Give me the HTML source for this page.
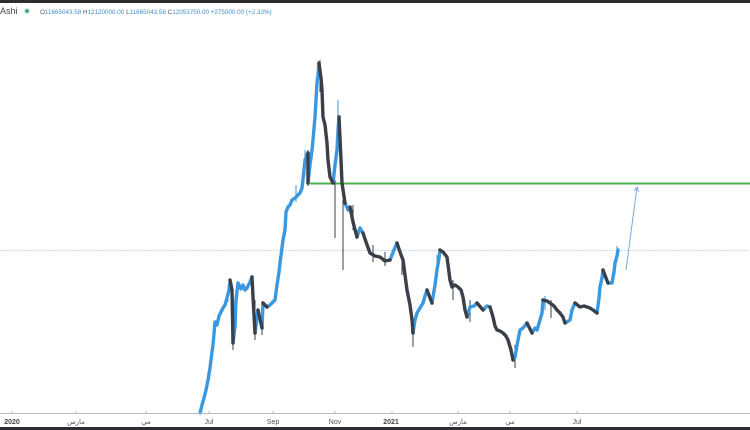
<!DOCTYPE html>
<html><head><meta charset="utf-8"><style>
html,body{margin:0;padding:0;background:#fff;}
svg{display:block;}
</style></head><body>
<svg width="750" height="430" viewBox="0 0 750 430" xmlns="http://www.w3.org/2000/svg">
<rect x="0" y="0" width="750" height="430" fill="#ffffff"/>
<rect x="0" y="0" width="750" height="3" fill="#2b2d33"/>
<rect x="0" y="427" width="750" height="3" fill="#2b2d33"/>

<!-- header -->
<text x="0" y="14" font-family="Liberation Sans, sans-serif" font-size="9" fill="#444">Ashi</text>
<circle cx="27" cy="11" r="3.2" fill="#d8efe6"/>
<circle cx="27" cy="11" r="1.8" fill="#26a07a"/>
<text x="40" y="14" font-family="Liberation Sans, sans-serif" font-size="6.3" fill="#3f8fd0"><tspan fill="#555">O</tspan>11665043.58 <tspan fill="#555">H</tspan>12120000.00 <tspan fill="#555">L</tspan>11665043.58 <tspan fill="#555">C</tspan>12053750.00 +275000.00 (+2.33%)</text>

<!-- dotted price line -->
<line x1="0" y1="250.5" x2="750" y2="250.5" stroke="#c9dbe6" stroke-width="1" stroke-dasharray="2,1"/>

<!-- green level -->
<line x1="310" y1="183.5" x2="750" y2="183.5" stroke="#4caf50" stroke-width="2"/>

<!-- arrow -->
<line x1="626" y1="270" x2="637" y2="187" stroke="#7aaad8" stroke-width="1"/>
<polyline points="634,191 637,187 638.5,192" fill="none" stroke="#7aaad8" stroke-width="1"/>

<!-- wicks -->
<g stroke="#3a3f48" stroke-width="1">
<line x1="343" y1="200" x2="343" y2="270"/>
<line x1="413" y1="320" x2="413" y2="347"/>
<line x1="233" y1="300" x2="233" y2="350"/>
<line x1="255" y1="300" x2="255" y2="340"/>
<line x1="320" y1="60" x2="320" y2="92"/>
<line x1="335" y1="180" x2="335" y2="238"/>
<line x1="308" y1="150" x2="308" y2="186"/>
<line x1="515" y1="345" x2="515" y2="368"/>
<line x1="262" y1="318" x2="262" y2="335"/>
<line x1="353" y1="205" x2="353" y2="230"/>
<line x1="402" y1="255" x2="402" y2="275"/>
<line x1="453" y1="280" x2="453" y2="300"/>
<line x1="373" y1="245" x2="373" y2="262"/>
<line x1="385" y1="252" x2="385" y2="266"/>
<line x1="470" y1="300" x2="470" y2="322"/>
<line x1="551" y1="300" x2="551" y2="318"/>
</g>
<g stroke="#3a98e0" stroke-width="1">
<line x1="338" y1="100" x2="338" y2="140"/>
<line x1="305" y1="150" x2="305" y2="175"/>
<line x1="437" y1="255" x2="437" y2="280"/>
<line x1="617" y1="246" x2="617" y2="262"/>
<line x1="228" y1="285" x2="228" y2="302"/>
<line x1="296" y1="185" x2="296" y2="202"/>
<line x1="545" y1="296" x2="545" y2="310"/>
</g>

<!-- blue up runs -->
<g fill="none" stroke="#3a98e0" stroke-width="3.4" stroke-linejoin="round" stroke-linecap="round">
<polyline points="200,413 202,405 204,398 206,390 208,380 210,368 212,352 213,345 215,322 217,325 219,316 221,312 223,308 225,305 227,298 229,290 230,282"/>
<polyline points="233,343 235,327 236,300 238,283 241,289 243,285 245,290 247,288 250,282 252,277"/>
<polyline points="255,333 258,310"/>
<polyline points="262,328 263,303"/>
<polyline points="267,307 270,305 273,302 275,300 277,285 279,272 280,263 282,248 283,240 285,230 286,212 288,207 290,205 292,200 295,198 298,195 300,193 302,188 304,170 305,160 307,155 308,153"/>
<polyline points="308,183 310,165 312,150 313,140 315,117 316,100 317,83 318,75 319,63"/>
<polyline points="333,183 335,165 337,150 338,130 339,117"/>
<polyline points="345,203 348,210 350,207"/>
<polyline points="357,237 360,228 363,233"/>
<polyline points="390,260 394,250 397,243"/>
<polyline points="413,333 415,320 417,313 420,308 423,303 425,296 427,290"/>
<polyline points="432,303 435,285 437,270 439,258 440,250"/>
<polyline points="467,317 470,307 474,306 477,303"/>
<polyline points="483,310 487,306 490,307"/>
<polyline points="513,360 515,357 517,345 520,330 523,328 527,323"/>
<polyline points="532,333 535,328 537,330 540,320 542,313 543,300"/>
<polyline points="565,323 570,320 572,310 575,303"/>
<polyline points="597,313 599,298 600,287 602,278 603,270"/>
<polyline points="608,283 612,283 614,272 615,263 617,256 618,250"/>
</g>

<!-- dark down runs -->
<g fill="none" stroke="#3a3f48" stroke-width="3.4" stroke-linejoin="round" stroke-linecap="round">
<polyline points="230,280 232,290 233,343"/>
<polyline points="252,277 253,297 255,333"/>
<polyline points="258,310 262,328"/>
<polyline points="263,303 267,307"/>
<polyline points="308,153 308,183"/>
<polyline points="319,63 321,78 322,90 323,117 325,125 327,143 328,160 330,177 333,183"/>
<polyline points="339,117 341,160 342,183 345,203"/>
<polyline points="350,207 353,222 357,237"/>
<polyline points="363,233 366,242 370,253 375,256 380,257 385,261 390,260"/>
<polyline points="397,243 400,252 403,260 405,275 407,290 410,305 412,320 413,333"/>
<polyline points="427,290 432,303"/>
<polyline points="440,250 443,252 447,257 450,280 452,287 455,285 458,287 461,290 463,297 465,310 467,317"/>
<polyline points="477,303 483,310"/>
<polyline points="490,307 493,317 495,326 497,330 500,331 503,333 506,336 508,340 511,350 513,360"/>
<polyline points="527,323 532,333"/>
<polyline points="543,300 547,301 550,303 554,306 557,310 560,313 563,317 565,323"/>
<polyline points="575,303 580,307 584,306 587,307 590,308 593,310 597,313"/>
<polyline points="603,270 606,278 608,283"/>
</g>

<!-- time axis -->
<line x1="0" y1="413.5" x2="750" y2="413.5" stroke="#b8bcc4" stroke-width="1"/>
<g stroke="#b8bcc4" stroke-width="1">
<line x1="12" y1="411" x2="12" y2="414"/>
<line x1="76" y1="411" x2="76" y2="414"/>
<line x1="146" y1="411" x2="146" y2="414"/>
<line x1="209" y1="411" x2="209" y2="414"/>
<line x1="273" y1="411" x2="273" y2="414"/>
<line x1="335" y1="411" x2="335" y2="414"/>
<line x1="392" y1="411" x2="392" y2="414"/>
<line x1="458" y1="411" x2="458" y2="414"/>
<line x1="510" y1="411" x2="510" y2="414"/>
<line x1="577" y1="411" x2="577" y2="414"/>
</g>
<g font-family="Liberation Sans, DejaVu Sans, sans-serif" font-size="7" fill="#555" text-anchor="middle">
<text x="12" y="424" font-weight="bold" fill="#444">2020</text>
<text x="76" y="424">مارس</text>
<text x="146" y="424">مي</text>
<text x="209" y="424">Jul</text>
<text x="273" y="424">Sep</text>
<text x="335" y="424">Nov</text>
<text x="391" y="424" font-weight="bold" fill="#444">2021</text>
<text x="458" y="424">مارس</text>
<text x="510" y="424">مي</text>
<text x="577" y="424">Jul</text>
</g>
</svg>
</body></html>
